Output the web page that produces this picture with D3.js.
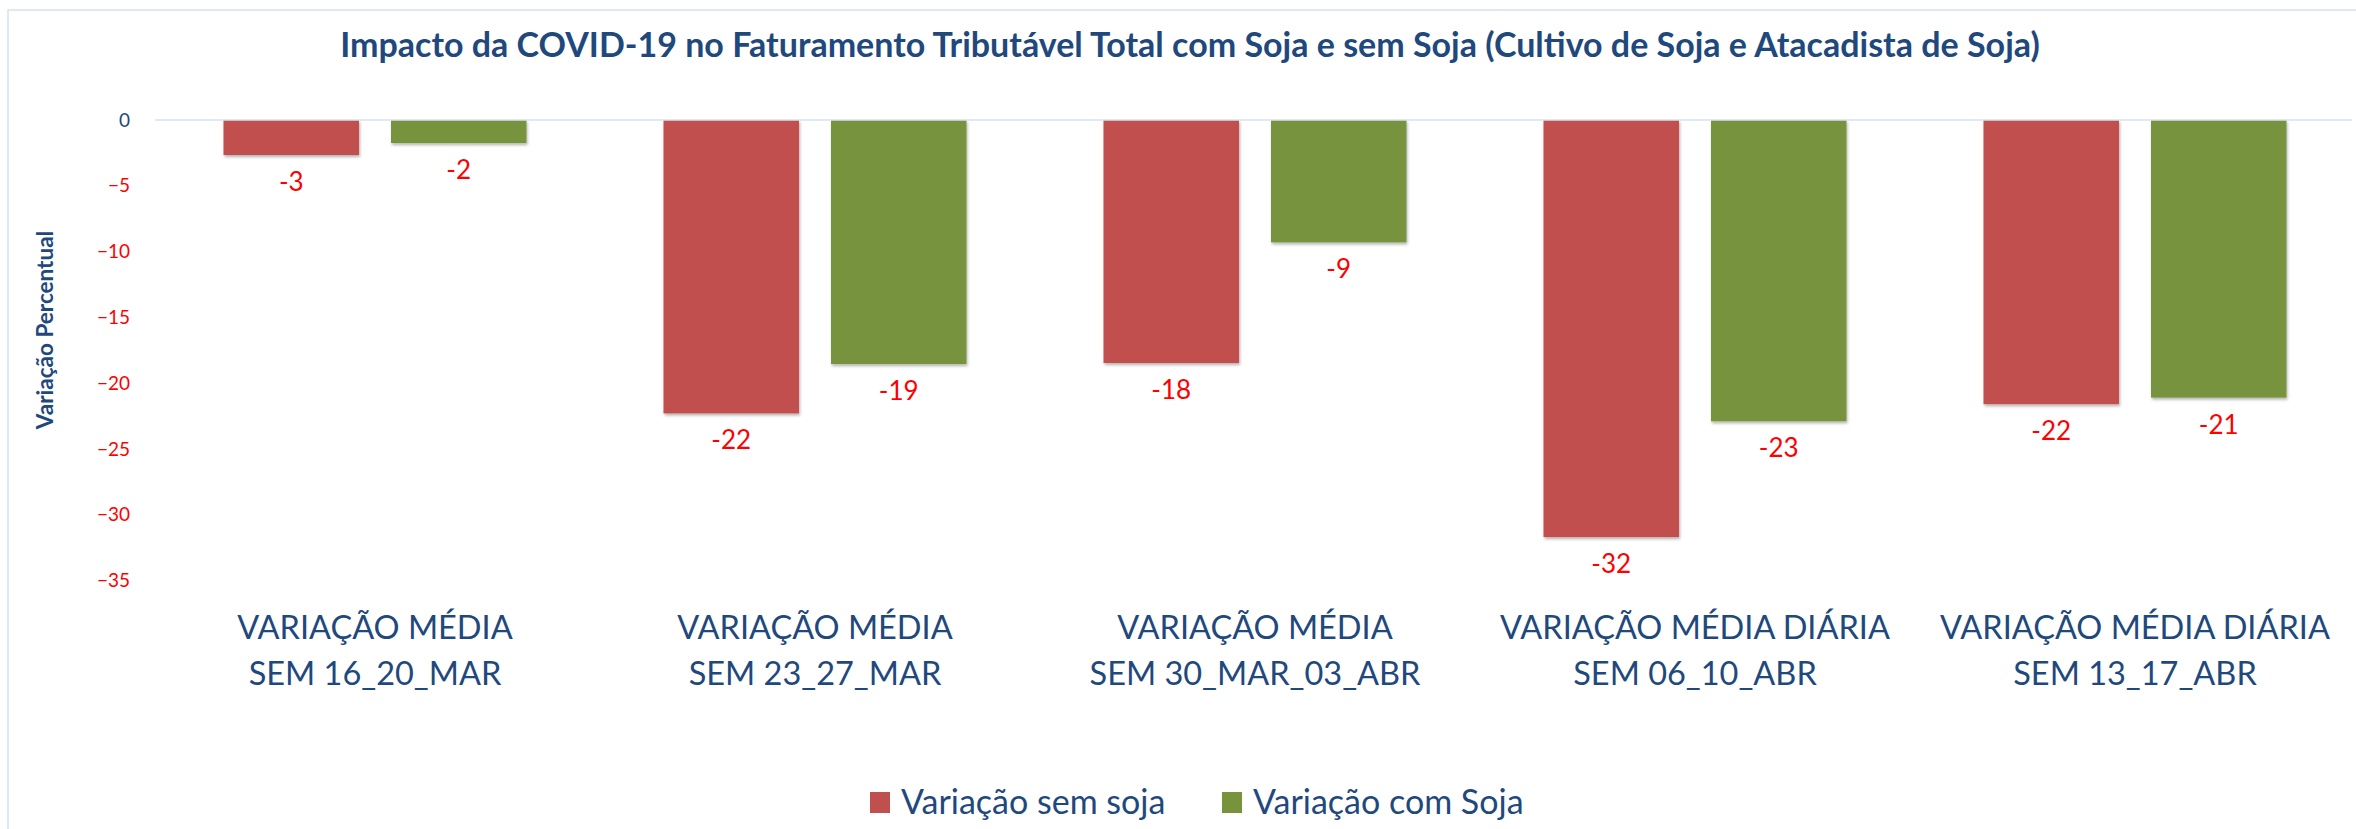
<!DOCTYPE html>
<html>
<head>
<meta charset="utf-8">
<script src="https://cdn.jsdelivr.net/npm/d3@7"></script>
<style>
  body { margin: 0; background: #fff; }
  text { font-family: Lato, "Open Sans", sans-serif; }
</style>
</head>
<body>
<div id="chart"></div>
<script>
// data
var categories = [
  ["VARIAÇÃO MÉDIA", "SEM 16_20_MAR"],
  ["VARIAÇÃO MÉDIA", "SEM 23_27_MAR"],
  ["VARIAÇÃO MÉDIA", "SEM 30_MAR_03_ABR"],
  ["VARIAÇÃO MÉDIA DIÁRIA", "SEM 06_10_ABR"],
  ["VARIAÇÃO MÉDIA DIÁRIA", "SEM 13_17_ABR"]
];
var semSoja = [-2.66, -22.3, -18.47, -31.7, -21.6];
var comSoja = [-1.75, -18.55, -9.3, -22.9, -21.1];
var seriesNames = ["Variação sem soja", "Variação com Soja"];
var yTicks = [0, -5, -10, -15, -20, -25, -30, -35];

var title = "Impacto da COVID-19 no Faturamento Tributável Total com Soja e sem Soja (Cultivo de Soja e Atacadista de Soja)";
var yTitle = "Variação Percentual";

var colors = ["#C0504D", "#77933C"];
var navy = "#1F497D";

var W = 2356, H = 829;

var svg = d3.select("#chart")
  .append("svg")
  .attr("width", W)
  .attr("height", H);

var defs = svg.append("defs");
var f = defs.append("filter").attr("id", "shadow")
  .attr("x", "-10%").attr("y", "-10%").attr("width", "130%").attr("height", "130%");
f.append("feDropShadow")
  .attr("dx", 1).attr("dy", 2).attr("stdDeviation", 1.5)
  .attr("flood-color", "#000").attr("flood-opacity", 0.3);

// outer frame
svg.append("rect")
  .attr("x", 8).attr("y", 10)
  .attr("width", W).attr("height", H)
  .attr("fill", "#fff")
  .attr("stroke", "#d6e2f0")
  .attr("stroke-width", 1.5);

// title
svg.append("text")
  .attr("x", 1190).attr("y", 57)
  .attr("text-anchor", "middle")
  .style("font-size", "34px")
  .style("font-weight", "bold")
  .style("fill", navy)
  .text(title);

// scales
var idx = d3.range(categories.length);
var x0 = d3.scaleBand().domain(idx).range([155, 2355]);
var x1 = d3.scaleBand().domain([0, 1]).range([0, x0.bandwidth()])
  .paddingInner(0.191).paddingOuter(0.409);
var y = d3.scaleLinear().domain([0, -35]).range([120, 580.5]);

// y axis labels (no line)
var yAxis = svg.append("g")
  .attr("transform", "translate(130,0)")
  .call(d3.axisLeft(y).tickValues(yTicks).tickSize(0).tickPadding(0).tickFormat(d3.format("d")));
yAxis.select(".domain").remove();
yAxis.selectAll("text")
  .style("font-family", "Lato, sans-serif")
  .style("font-size", "19px")
  .style("fill", function (d) { return d < 0 ? "#FF0000" : navy; });

// y axis title
svg.append("text")
  .attr("transform", "translate(53,330) rotate(-90)")
  .attr("text-anchor", "middle")
  .style("font-size", "22.5px")
  .style("font-weight", "bold")
  .style("fill", navy)
  .text(yTitle);

// bars
var rows = idx.map(function (i) {
  return [semSoja[i], comSoja[i]];
});

var groups = svg.selectAll(".grp")
  .data(rows)
  .enter()
  .append("g")
  .attr("class", "grp")
  .attr("transform", function (d, i) { return "translate(" + x0(i) + ",0)"; });

groups.selectAll("rect")
  .data(function (d) { return d; })
  .enter()
  .append("rect")
  .attr("x", function (d, j) { return x1(j); })
  .attr("y", y(0))
  .attr("width", x1.bandwidth())
  .attr("height", function (d) { return y(d) - y(0); })
  .attr("fill", function (d, j) { return colors[j]; })
  .attr("filter", "url(#shadow)");

groups.selectAll(".lbl")
  .data(function (d) { return d; })
  .enter()
  .append("text")
  .attr("class", "lbl")
  .attr("x", function (d, j) { return x1(j) + x1.bandwidth() / 2; })
  .attr("y", function (d) { return y(d) + 36; })
  .attr("text-anchor", "middle")
  .style("font-size", "26px")
  .style("fill", "#FF0000")
  .text(function (d) { return Math.round(d); });

// zero line (category axis)
svg.append("line")
  .attr("x1", 155).attr("x2", 2352)
  .attr("y1", y(0)).attr("y2", y(0))
  .attr("stroke", "#d6e2f0")
  .attr("stroke-width", 1.5);

// category labels
var cat = svg.selectAll(".cat")
  .data(categories)
  .enter()
  .append("text")
  .attr("class", "cat")
  .attr("text-anchor", "middle")
  .style("font-size", "32.5px")
  .style("fill", navy);

cat.selectAll("tspan")
  .data(function (d) { return d; })
  .enter()
  .append("tspan")
  .attr("x", function (d, k, nodes) {
    var i = categories.indexOf(d3.select(nodes[k].parentNode).datum());
    return x0(i) + x0.bandwidth() / 2;
  })
  .attr("y", function (d, k) { return 639 + k * 46; })
  .text(function (d) { return d; });

// legend
var legendX = [870, 1222];
var legend = svg.selectAll(".leg")
  .data(seriesNames)
  .enter()
  .append("g")
  .attr("class", "leg")
  .attr("transform", function (d, i) { return "translate(" + legendX[i] + ",792)"; });

legend.append("rect")
  .attr("width", 20).attr("height", 21)
  .attr("fill", function (d, i) { return colors[i]; });

legend.append("text")
  .attr("x", 31).attr("y", 22)
  .style("font-size", "34px")
  .style("fill", navy)
  .text(function (d) { return d; });
</script>
</body>
</html>
